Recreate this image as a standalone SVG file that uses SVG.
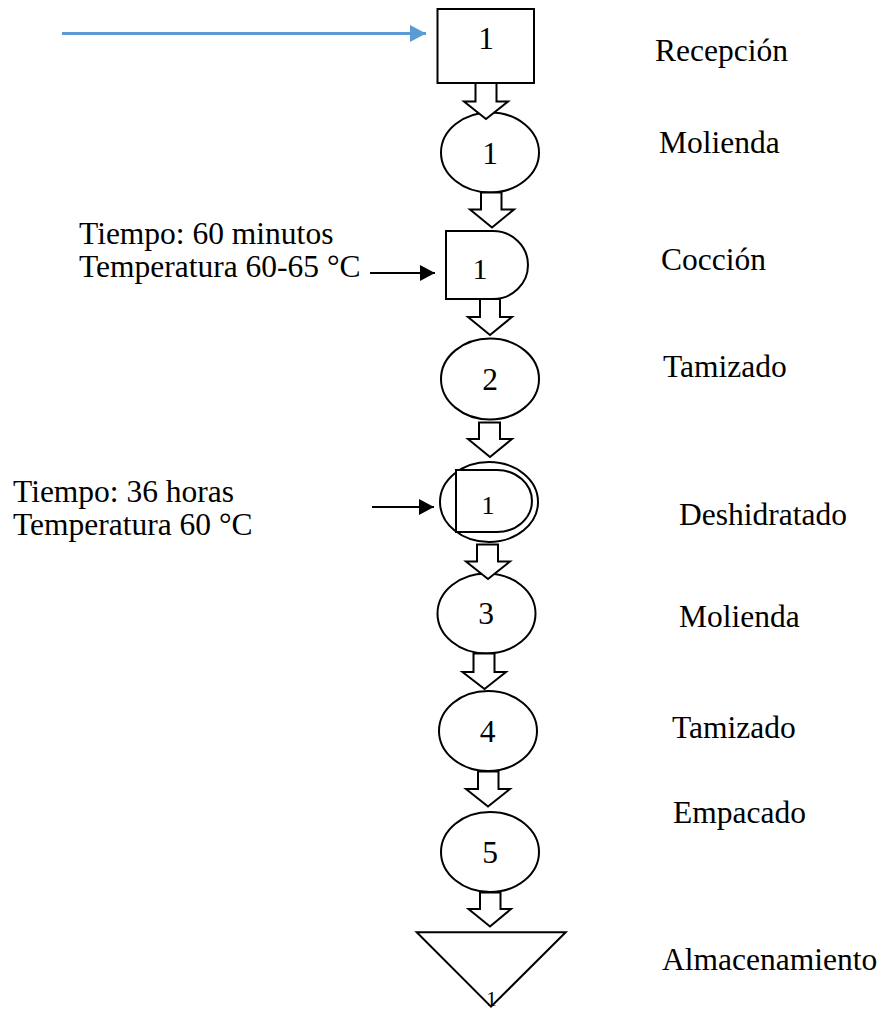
<svg xmlns="http://www.w3.org/2000/svg" width="884" height="1017" viewBox="0 0 884 1017">
<style>
.shape{fill:#fff;stroke:#000;stroke-width:2}
.blk{fill:#fff;stroke:#000;stroke-width:2;stroke-linejoin:miter}
.t{font-family:"Liberation Serif","Times New Roman",serif;font-size:31.5px;fill:#000}
.n{font-family:"Liberation Serif","Times New Roman",serif;font-size:31.5px;fill:#000;text-anchor:middle}
.ns{font-family:"Liberation Serif","Times New Roman",serif;fill:#000;text-anchor:middle}
.ln{stroke:#000;stroke-width:2;fill:none}
</style>
<defs>
<marker id="ah" markerWidth="15" markerHeight="16" refX="15" refY="8" orient="auto" markerUnits="userSpaceOnUse"><path d="M0,0 L15,8 L0,16 Z" fill="#000"/></marker>
<marker id="ahb" markerWidth="16" markerHeight="17" refX="16" refY="8.5" orient="auto" markerUnits="userSpaceOnUse"><path d="M0,0 L16,8.5 L0,17 Z" fill="#5b9bd5"/></marker>
</defs>

<g id="n-recepcion">
<rect class="shape" x="437.5" y="9" width="96.5" height="74"/>
<text class="n" x="486" y="49">1</text>
</g>
<g id="n-molienda1">
<ellipse class="shape" cx="490" cy="152.5" rx="49" ry="40"/>
<text class="n" x="490" y="163.5">1</text>
</g>
<g id="n-coccion">
<path class="shape" d="M446,231 H493 A35,34 0 0 1 493,299 H446 Z"/>
<text class="ns" x="480" y="279" font-size="30">1</text>
</g>
<g id="n-tamizado1">
<ellipse class="shape" cx="490" cy="379" rx="49" ry="40.5"/>
<text class="n" x="490" y="390">2</text>
</g>
<g id="n-deshidratado">
<ellipse class="shape" cx="489" cy="502" rx="49" ry="40"/>
<path class="shape" d="M456,470 H497 A35,31 0 0 1 497,532 H456 Z"/>
<text class="ns" x="488" y="513.5" font-size="26">1</text>
</g>
<g id="n-molienda2">
<ellipse class="shape" cx="486.5" cy="613.5" rx="49" ry="40"/>
<text class="n" x="486" y="624">3</text>
</g>
<g id="n-tamizado2">
<ellipse class="shape" cx="488" cy="731" rx="49" ry="40"/>
<text class="n" x="487.5" y="742">4</text>
</g>
<g id="n-empacado">
<ellipse class="shape" cx="490" cy="852" rx="49" ry="40"/>
<text class="n" x="490" y="863">5</text>
</g>
<g id="n-almacenamiento">
<polygon class="shape" points="416.7,932.3 565.7,932.3 491,1006.7"/>
<text class="ns" x="491.5" y="1006" font-size="21">1</text>
</g>

<g id="connectors">
<line x1="62" y1="33.5" x2="426" y2="33.5" stroke="#5b9bd5" stroke-width="3" marker-end="url(#ahb)"/>
<line class="ln" x1="370" y1="273" x2="435" y2="273" marker-end="url(#ah)"/>
<line class="ln" x1="372" y1="507" x2="434" y2="507" marker-end="url(#ah)"/>
<path class="blk" d="M475.5,83 H496.5 V101.5 H508 L486,119 L464,101.5 H475.5 Z"/>
<path class="blk" d="M481,192.5 H501.5 V209.5 H514 L492,227.5 L470,209.5 H481 Z"/>
<path class="blk" d="M480,299 H500 V317 H512 L490,335 L468,317 H480 Z"/>
<path class="blk" d="M479,422.5 H500 V439 H512 L490,457 L468,439 H479 Z"/>
<path class="blk" d="M477,544.5 H498 V561.5 H510 L488,579 L466,561.5 H477 Z"/>
<path class="blk" d="M473.5,653.5 H494.5 V672 H506 L484.5,689 L462.5,672 H473.5 Z"/>
<path class="blk" d="M478,771.5 H498.5 V789 H510 L488,806.5 L466,789 H478 Z"/>
<path class="blk" d="M480,892.5 H500.5 V909 H511 L490,926.5 L468.5,909 H480 Z"/>
</g>

<g id="labels">
<text class="t" x="79" y="244">Tiempo: 60 minutos</text>
<text class="t" x="79" y="277">Temperatura 60-65 °C</text>
<text class="t" x="13" y="502">Tiempo: 36 horas</text>
<text class="t" x="13" y="535">Temperatura 60 °C</text>
<text class="t" x="655" y="61">Recepción</text>
<text class="t" x="659" y="153">Molienda</text>
<text class="t" x="661" y="270">Cocción</text>
<text class="t" x="663" y="377">Tamizado</text>
<text class="t" x="679" y="525">Deshidratado</text>
<text class="t" x="679" y="627">Molienda</text>
<text class="t" x="672" y="738">Tamizado</text>
<text class="t" x="673" y="823">Empacado</text>
<text class="t" x="662" y="970">Almacenamiento</text>
</g>
</svg>
